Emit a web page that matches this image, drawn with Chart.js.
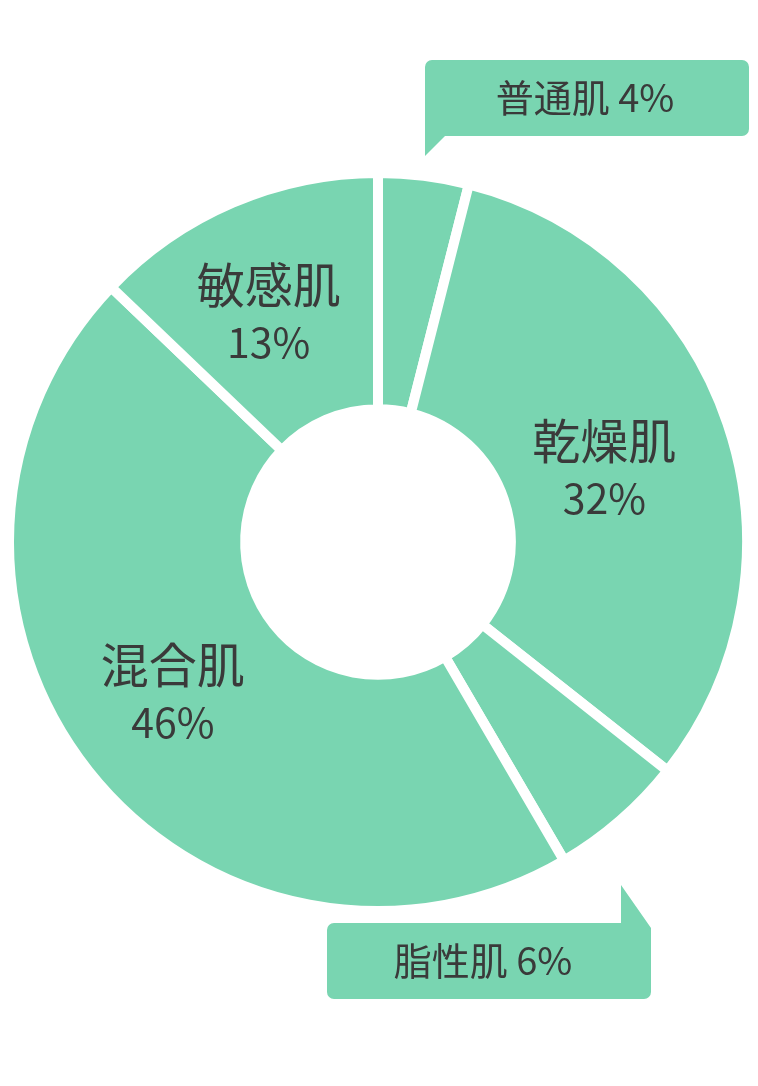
<!DOCTYPE html>
<html lang="ja">
<head>
<meta charset="utf-8">
<title>肌質の割合</title>
<script src="https://cdn.jsdelivr.net/npm/chart.js@4.4.1/dist/chart.umd.min.js"></script>
<style>
  html, body { margin: 0; padding: 0; background: #ffffff; }
  #wrap { width: 758px; height: 1086px; position: relative; }
</style>
</head>
<body>
<div id="wrap"><canvas id="hada" width="758" height="1086"></canvas></div>
<script>
//---------------------------DONNEES---------------------------------

const hadaLabels = ['普通肌', '乾燥肌', '脂性肌', '混合肌', '敏感肌'];
const hadaValues = [4, 32, 6, 46, 13];
const hadaText = ['4%', '32%', '6%', '46%', '13%'];

const vert = '#79d5b1';
const texte = '#3a3a3a';
const police = '"Noto Sans CJK JP", "Noto Sans CJK SC", sans-serif';

// étiquettes dans l'anneau (index du morceau -> rayon + petit décalage)
const dedans = {
    1: { r: 240, dx: -1, dy: 4 },
    3: { r: 250, dx: -9, dy: -4 },
    4: { r: 250, dx: -11, dy: 1 }
};

// bulles à l'extérieur pour les petits morceaux
const bulles = {
    0: { x: 425, y: 60, w: 324, h: 76, queue: 'basgauche', dx: -2 },
    2: { x: 327, y: 923, w: 324, h: 76, queue: 'hautdroite', dx: -6 }
};

//---------------------------DESSIN DES BULLES---------------------------------

function bulle(c, b) {
    const r = 7, x = b.x, y = b.y, w = b.w, h = b.h;
    c.beginPath();
    if (b.queue === 'basgauche') {
        c.moveTo(x + r, y);
        c.lineTo(x + w - r, y);
        c.arcTo(x + w, y, x + w, y + r, r);
        c.lineTo(x + w, y + h - r);
        c.arcTo(x + w, y + h, x + w - r, y + h, r);
        c.lineTo(x + 20, y + h);
        c.lineTo(x, y + h + 20); // pointe vers le bas
        c.lineTo(x, y + r);
        c.arcTo(x, y, x + r, y, r);
    } else {
        c.moveTo(x + r, y);
        c.lineTo(x + w - 30, y);
        c.lineTo(x + w - 30, y - 38); // pointe vers le haut
        c.lineTo(x + w, y + 5);
        c.lineTo(x + w, y + h - r);
        c.arcTo(x + w, y + h, x + w - r, y + h, r);
        c.lineTo(x + r, y + h);
        c.arcTo(x, y + h, x, y + h - r, r);
        c.lineTo(x, y + r);
        c.arcTo(x, y, x + r, y, r);
    }
    c.closePath();
    c.fillStyle = vert;
    c.fill();
}

const etiquettes = {
    id: 'etiquettes',
    afterDatasetsDraw(chart) {
        const c = chart.ctx;
        const arcs = chart.getDatasetMeta(0).data;
        c.save();
        c.textAlign = 'center';
        c.textBaseline = 'middle';

        arcs.forEach((arc, i) => {
            const p = dedans[i];
            if (!p) return;
            const { x, y, startAngle, endAngle } = arc.getProps(['x', 'y', 'startAngle', 'endAngle'], true);
            const mid = (startAngle + endAngle) / 2;
            const cx = x + Math.cos(mid) * p.r + p.dx;
            const cy = y + Math.sin(mid) * p.r + p.dy;
            c.fillStyle = texte;
            c.font = '48px ' + police;
            c.fillText(hadaLabels[i], cx, cy - 28);
            c.font = '41px ' + police;
            c.fillText(hadaText[i], cx, cy + 29);
        });

        Object.keys(bulles).forEach(k => {
            const b = bulles[k];
            bulle(c, b);
            c.fillStyle = texte;
            c.font = '38px ' + police;
            c.fillText(hadaLabels[k] + ' ' + hadaText[k], b.x + b.w / 2 + b.dx, b.y + b.h / 2);
        });

        c.restore();
    }
};

//---------------------------GRAPHIQUE---------------------------------

new Chart(document.getElementById('hada'), {
    type: 'doughnut',
    data: {
        labels: hadaLabels,
        datasets: [{
            data: hadaValues,
            backgroundColor: vert,
            hoverBackgroundColor: vert,
            borderColor: '#ffffff',
            borderWidth: 10,
            hoverBorderWidth: 10,
            hoverOffset: 0
        }]
    },
    options: {
        responsive: false,
        animation: false,
        events: [],
        cutout: '36%',
        layout: { padding: { left: 4, right: 6, top: 100, bottom: 102 } },
        plugins: {
            legend: { display: false },
            tooltip: { enabled: false }
        }
    },
    plugins: [etiquettes]
});
</script>
</body>
</html>
